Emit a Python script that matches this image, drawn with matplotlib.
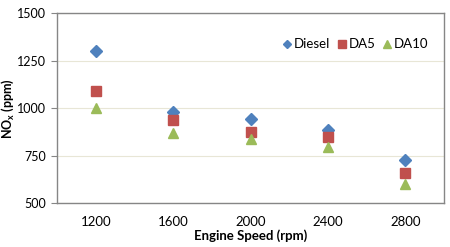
import matplotlib
matplotlib.use("Agg")
import matplotlib.pyplot as plt

plt.rcParams["font.family"] = ["Lato", "DejaVu Sans"]

speeds = ["1200", "1600", "2000", "2400", "2800"]
diesel = [1298, 977, 940, 885, 728]
da5 = [1090, 938, 873, 850, 658]
da10 = [1000, 868, 838, 796, 598]

series = [
    ("Diesel", diesel, "D", "#4F81BD", 6),
    ("DA5", da5, "s", "#C0504D", 7),
    ("DA10", da10, "^", "#9BBB59", 7),
]

fig = plt.figure(figsize=(4.5, 2.47), dpi=100)
ax = fig.add_axes([0.127, 0.178, 0.860, 0.769])

x = range(len(speeds))
for name, vals, marker, color, size in series:
    ax.plot(x, vals, linestyle="none", marker=marker, color=color,
            markersize=size, label=name)

ax.set_xlim(-0.5, len(speeds) - 0.5)
ax.set_ylim(500, 1500)
ax.set_xticks(list(x))
ax.set_xticklabels(speeds)
ax.set_yticks([500, 750, 1000, 1250, 1500])
ax.set_yticklabels(["500", "750", "1000", "1250", "1500"])
ax.tick_params(axis="x", length=0, pad=9, labelsize=9.5, colors="#000000")
ax.tick_params(axis="y", length=4, width=0.8, color="#868686", pad=4, labelsize=9)
ax.grid(axis="y", color="#E8E6D6", linewidth=0.8)
ax.set_axisbelow(True)
for s in ax.spines.values():
    s.set_color("#868686")
    s.set_linewidth(1.0)

ax.set_xlabel("Engine Speed (rpm)", fontsize=9.5, fontweight="bold")
ax.xaxis.set_label_coords(0.5, -0.14)
ax.set_ylabel("NO$_\\mathregular{x}$ (ppm)", fontsize=9, fontweight="bold")
ax.yaxis.set_label_coords(-0.107, 0.5)

leg = ax.legend(loc="upper right", ncol=3, frameon=False, fontsize=9.5,
                handletextpad=0.0, columnspacing=0.4, handlelength=1.0,
                bbox_to_anchor=(0.99, 0.93), markerscale=0.75)

fig.savefig("out.png", dpi=100)
